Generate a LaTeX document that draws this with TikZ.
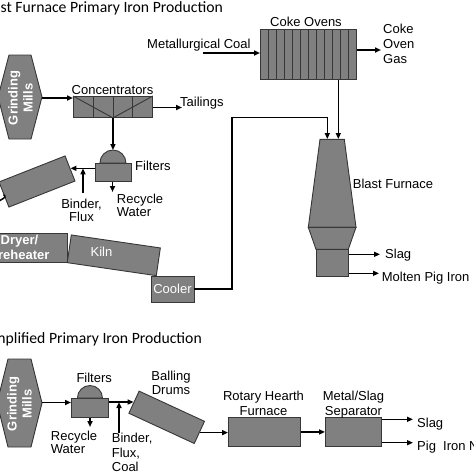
\documentclass[tikz,border=0pt]{standalone}
\usepackage{fontspec}
\setmainfont{Liberation Sans}
\newfontfamily\titlefont{Carlito}
\usetikzlibrary{arrows.meta,calc}
\definecolor{unitgray}{RGB}{128,128,128}
\definecolor{edgegray}{RGB}{55,55,55}

\begin{document}
\begin{tikzpicture}[x=1pt,y=-1pt,
  font=\fontsize{13}{15}\selectfont,
  unit/.style={draw=edgegray,fill=unitgray,line width=0.9pt,inner sep=0pt},
  box/.style={unit,minimum width=#1},
  box/.default=40,
  cell/.style={draw=edgegray,line width=0.9pt},
  arr/.style={-{Triangle[length=6pt,width=5pt]},line width=1.5pt},
  lbl/.style={inner sep=0pt,align=left},
  tight/.style={font=\fontsize{13}{11}\selectfont},
  wlbl/.style={inner sep=0pt,text=white},
  mill/.style={wlbl,rotate=90,align=center,font=\fontsize{13}{15}\selectfont\bfseries},
  ttl/.style={inner sep=0pt,font=\titlefont\fontsize{15.7}{18}\selectfont}]
\useasboundingbox (0,0) rectangle (474,474);
\clip (0,0) rectangle (474,474);
% titles
\node[ttl,anchor=base east] (ttlbf) at (223,12.5) {Blast Furnace Primary Iron Production};
\node[ttl,anchor=base east] (ttlsp) at (202,343) {Simplified Primary Iron Production};
% blast furnace route: ore side
\draw[unit] (9,55) -- (31,55) -- (42,97) -- (31,139) -- (9,139) -- (-2,97) -- cycle;
\coordinate (millsAout) at (42,98);
\node[mill] (millsA) at (20.5,98) {Grinding\\Mills};
\node[box=79,minimum height=21,anchor=north west] (conc) at (73,96) {};
\foreach \i in {1,2,3}
  \draw[cell] ($(conc.north west)!\i/4!(conc.north east)$) -- ($(conc.south west)!\i/4!(conc.south east)$);
\draw[cell] (conc.north west) -- (conc.south) -- (conc.north east);
\node[lbl,anchor=base] (concl) at (112.5,94) {Concentrators};
\draw[arr] (millsAout) -- (millsAout -| conc.west);
\coordinate (tailin) at (182,107.5);
\draw[arr] (tailin -| conc.east) -- (tailin);
\node[lbl,anchor=base west] (tail) at (180,106.5) {Tailings};
% filters
\node[box=36,minimum height=18,anchor=north west] (filtA) at (94.5,163) {};
\draw[unit] ($(filtA.north)+(-13,0)$) arc (180:360:13) -- cycle;
\coordinate (domeA) at ($(filtA.north)+(0,-13)$);
\draw[arr] (conc.south) -- (domeA);
\node[lbl,anchor=base west] (filtAl) at (135,170) {Filters};
\coordinate (recA) at (112.5,192);
\draw[arr] (recA |- filtA.south) -- (recA);
\node[lbl,tight,anchor=base west] (recAl) at (116.7,216) {Recycle\\Water};
% balling drum, dryer, kiln, cooler
\node[unit,rotate=21.5,minimum width=71,minimum height=27] (drumA) at (37,181.5) {};
\draw[arr] (drumA.east -| filtA.west) -- (drumA.east);
\coordinate (bindA) at (83,193);
\draw[arr] (bindA) -- (bindA |- drumA.east);
\node[lbl,tight,align=center,anchor=base] (bindAl) at (81.5,221) {Binder,\\Flux};
\coordinate (drumAout) at (-1,201);
\draw[line width=1.5pt] (drumA.west) .. controls (6,197) .. (drumAout);
\node[box=95,minimum height=29,text=white,align=center,font=\fontsize{13}{14.3}\selectfont\bfseries] (dryer) at (19.5,247.5) {Dryer/\\Preheater};
\node[unit,rotate=-8.3,minimum width=90,minimum height=28] (kiln) at (113.8,255.3) {};
\node[wlbl,anchor=base] (kilnl) at (101.5,256.7) {Kiln};
\node[box=43,minimum height=26,text=white] (cooler) at (172.5,289) {Cooler};
\coordinate (bend) at (232,117.5);
\coordinate (bfin1) at (327.3,139);
\draw[arr] (cooler.east) -| (bend) -| (bfin1);
% coke side
\node[box=96,minimum height=50,anchor=north west] (coke) at (260,29) {};
\foreach \i in {1,...,11}
  \draw[cell] ($(coke.north west)!\i/12!(coke.north east)$) -- ($(coke.south west)!\i/12!(coke.south east)$);
\node[lbl,anchor=base] (cokel) at (306,26.5) {Coke Ovens};
\node[lbl,anchor=base west] (coal) at (147,48) {Metallurgical Coal};
\coordinate (coalout) at (203,53);
\draw[arr] (coalout) -- (coalout -| coke.west);
\coordinate (gasin) at (381,50);
\draw[arr] (gasin -| coke.east) -- (gasin);
\node[lbl,anchor=base west] (gas) at (383,63.3) {Coke\\Oven\\Gas};
\coordinate (bfin2) at (338.3,139);
\draw[arr] (bfin2 |- coke.south) -- (bfin2);
% blast furnace
\draw[unit] (320,139.3) -- (344.3,139.3) -- (356,227.3) -- (308.3,227.3) -- cycle;
\draw[unit] (308.3,227.3) -- (356,227.3) -- (348.3,249.3) -- (316,249.3) -- cycle;
\node[box=32.3,minimum height=26.7,anchor=north west] (hearth) at (316,249.3) {};
\node[lbl,anchor=base west] (bfl) at (352.7,188.3) {Blast Furnace};
\coordinate (slagA) at (380,254.3);
\coordinate (ironA) at (379,273.3);
\draw[arr] (slagA -| hearth.east) -- (slagA);
\draw[arr] (ironA -| hearth.east) -- (ironA);
\node[lbl,anchor=base west] (slagAl) at (385,258.3) {Slag};
\node[lbl,anchor=base west] (ironAl) at (381.7,281) {Molten Pig Iron};
% simplified route
\draw[unit] (8,359) -- (31,359) -- (42,403) -- (31,447) -- (8,447) -- (-3,403) -- cycle;
\coordinate (millsBout) at (42,402.5);
\node[mill] (millsB) at (19.5,404) {Grinding\\Mills};
\node[box=37,minimum height=19,anchor=north west] (filtB) at (71,398) {};
\draw[unit] ($(filtB.north)+(-12.5,0)$) arc (180:360:12.5) -- cycle;
\draw[arr] (millsBout) -- (millsBout -| filtB.west);
\node[lbl,anchor=base] (filtBl) at (94.2,382.3) {Filters};
\coordinate (recB) at (90,427);
\draw[arr] (recB |- filtB.south) -- (recB);
\node[lbl,font=\fontsize{13}{12.7}\selectfont,anchor=base west] (recBl) at (50.7,453.3) {Recycle\\Water};
\node[unit,rotate=-24.8,minimum width=72,minimum height=24.4] (drumB) at (166.7,417.3) {};
\draw[arr] (filtB.east |- drumB.west) -- (drumB.west);
\coordinate (bindB) at (119,433);
\draw[arr] (bindB) -- (bindB |- drumB.west);
\node[lbl,font=\fontsize{13}{14.5}\selectfont,anchor=base west] (bindBl) at (111.7,471.7) {Binder,\\Flux,\\Coal};
\node[lbl,align=center,font=\fontsize{13}{14}\selectfont,anchor=base] (drumBl) at (171,394) {Balling\\Drums};
\node[box=72,minimum height=29,anchor=north west] (rhf) at (228,417) {};
\draw[arr] (drumB.east) -- (drumB.east -| rhf.west);
\node[lbl,align=center,anchor=base] (rhfl) at (263.5,415) {Rotary Hearth\\Furnace};
\node[box=56,minimum height=29,anchor=north west] (sep) at (325,417) {};
\draw[arr] (rhf.east) -- (sep.west);
\node[lbl,align=center,anchor=base] (sepl) at (353.5,415) {Metal/Slag\\Separator};
\coordinate (slagB) at (413,419.3);
\coordinate (ironB) at (413,442.7);
\draw[arr] (slagB -| sep.east) -- (slagB);
\draw[arr] (ironB -| sep.east) -- (ironB);
\node[lbl,anchor=base west] (slagBl) at (417,427.3) {Slag};
\node[lbl,anchor=base west] (ironBl) at (417,450) {Pig\ \ Iron Nuggets};
\end{tikzpicture}
\end{document}
